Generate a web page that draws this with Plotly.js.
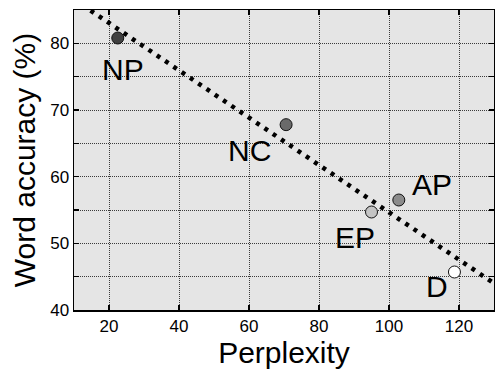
<!DOCTYPE html>
<html>
<head>
<meta charset="utf-8">
<script src="https://cdn.plot.ly/plotly-3.0.1.min.js"></script>
<style>html,body{margin:0;padding:0;background:#fff;}#chart{width:495px;height:374px;}</style>
</head>
<body>
<div id="chart"></div>
<script>
// Data
var labels = ["NP", "NC", "AP", "EP", "D"];
var perplexity = [22.5, 70.6, 102.8, 95.0, 118.7];
var accuracy = [80.8, 67.8, 56.5, 54.7, 45.7];
var markerColors = ["#404040", "#6a6a6a", "#8c8c8c", "#c4c4c4", "#ffffff"];
var fitX = [10, 130];
var fitY = [86.6, 44.0];
var xTickVals = [20, 40, 60, 80, 100, 120];
var yTickVals = [40, 50, 60, 70, 80];

// label offsets (pixels)
var labelDX = [5, -37, 33, -17, -17];
var labelDY = [-31, -26, 16, -25, -14];

var traces = [
  {
    x: fitX, y: fitY, mode: 'lines', type: 'scatter',
    line: {color: '#000', width: 4.5, dash: '4px,6px'},
    hoverinfo: 'skip', showlegend: false
  },
  {
    x: perplexity, y: accuracy, mode: 'markers', type: 'scatter',
    marker: {size: 12, color: markerColors, line: {color: '#111', width: 1}},
    showlegend: false
  }
];

var annotations = labels.map(function(t, i) {
  return {
    x: perplexity[i], y: accuracy[i], xref: 'x', yref: 'y',
    text: t, showarrow: false, xanchor: 'center', yanchor: 'middle',
    xshift: labelDX[i], yshift: labelDY[i],
    font: {family: 'Liberation Sans, Arial, sans-serif', size: 30, color: '#000'}
  };
});

var gridStyle = {gridcolor: '#3a3a3a', griddash: '1px,1px', gridwidth: 1};

var layout = {
  width: 495, height: 374,
  margin: {l: 74, r: 1, t: 10, b: 64},
  paper_bgcolor: '#fff', plot_bgcolor: '#e5e5e5',
  font: {family: 'Liberation Sans, Arial, sans-serif', color: '#000'},
  xaxis: Object.assign({
    range: [10, 130], tickvals: xTickVals, ticktext: xTickVals.map(String),
    ticks: 'inside', ticklen: 5, tickcolor: '#000', tickwidth: 1.5,
    showline: true, linecolor: '#000', linewidth: 1.5, mirror: 'ticks',
    showgrid: true,
    zeroline: false, tickfont: {size: 17},
    title: {text: 'Perplexity', font: {size: 30}, standoff: 6}
  }, gridStyle),
  yaxis: Object.assign({
    range: [40, 85], tickvals: yTickVals, ticktext: yTickVals.map(String),
    ticks: 'inside', ticklen: 5, tickcolor: '#000', tickwidth: 1.5,
    showline: true, linecolor: '#000', linewidth: 1.5, mirror: 'ticks',
    showgrid: true,
    minor: Object.assign({dtick: 5, tick0: 45, ticks: 'inside', ticklen: 5, tickcolor: '#000', showgrid: true}, gridStyle),
    zeroline: false, tickfont: {size: 17},
    title: {text: 'Word accuracy (%)', font: {size: 30}, standoff: 5}
  }, gridStyle),
  annotations: annotations
};

Plotly.newPlot('chart', traces, layout, {displayModeBar: false, staticPlot: true});
</script>
</body>
</html>
